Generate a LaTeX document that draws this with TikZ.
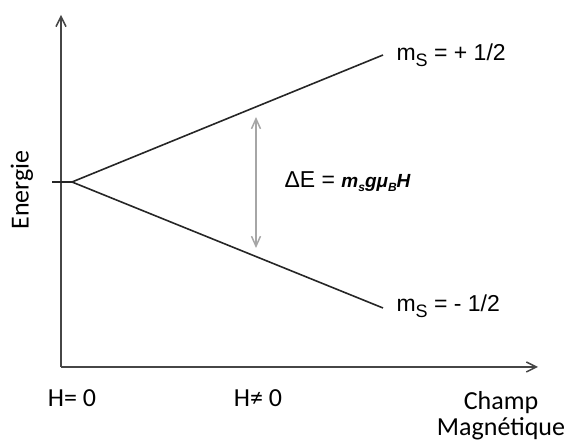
\documentclass[tikz,border=0pt]{standalone}
\usepackage{fontspec}
\setmainfont{Liberation Sans}
\newfontfamily\calib{Carlito}
\usetikzlibrary{arrows.meta}

\tikzset{
  axis/.style={line width=1.5pt,gray!55!black,-{Straight Barb[length=10pt,width=10pt]}},
  level/.style={line width=1.6pt,black!85},
  gap/.style={line width=1.5pt,gray!70,{Straight Barb[length=10pt,width=9pt]}-{Straight Barb[length=10pt,width=9pt]}},
  spin/.style={anchor=base west,font=\fontsize{23}{26}\selectfont},
  caption/.style={font=\calib\fontsize{26}{28}\selectfont}
}

\begin{document}
\begin{tikzpicture}[x=1pt,y=1pt]
  \useasboundingbox (0,0) rectangle (566,441);

  % axes
  \coordinate (O) at (61,74);
  \coordinate (ytop) at (61,426);
  \coordinate (xend) at (538,74);
  \draw[axis] (O) -- (ytop);
  \draw[axis] (O) -- (xend);

  % niveaux
  \coordinate (lvl0) at (52,259);
  \coordinate (split) at (72,259);
  \coordinate (up) at (383,386);
  \coordinate (down) at (383,133);
  \draw[level] (lvl0) -- (split) -- (up);
  \draw[level] (split) -- (down);

  % ecart
  \coordinate (gtop) at (256,324);
  \coordinate (gbot) at (256,193);
  \draw[gap] (gbot) -- (gtop);

  \node[spin] (mplus) at (393,380) {m\raisebox{-0.45ex}{\fontsize{18}{20}\selectfont S} = + 1/2};
  \node[spin] (mminus) at (393,129) {m\raisebox{-0.45ex}{\fontsize{18}{20}\selectfont S} = - 1/2};
  \node[spin] (dE) at (281,253)
    {ΔE = {\fontsize{19}{22}\selectfont\bfseries\itshape m\raisebox{-0.3ex}{\fontsize{12}{14}\selectfont s}gμ\raisebox{-0.3ex}{\fontsize{12}{14}\selectfont B}H}};

  \node[caption,rotate=90] (en) at (22,251) {Energie};
  \node[caption] (h0) at (72,43) {H= 0};
  \node[caption] (h1) at (258,43) {H≠ 0};
  \node[caption,align=center] (champ) at (501,25) {Champ\\[-2pt]Magnétique};
\end{tikzpicture}
\end{document}
